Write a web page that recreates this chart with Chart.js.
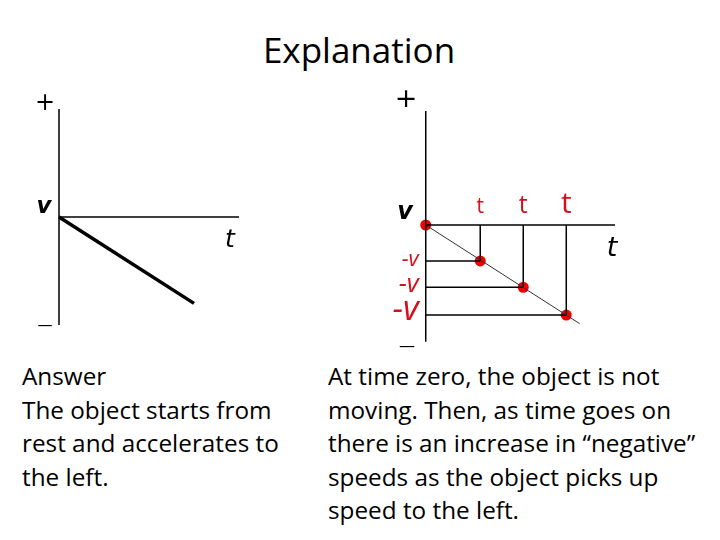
<!DOCTYPE html>
<html>
<head>
<meta charset="utf-8">
<script src="https://cdn.jsdelivr.net/npm/chart.js@4/dist/chart.umd.min.js"></script>
<style>
  html, body { margin: 0; padding: 0; background: #fff; }
  #page { position: relative; width: 720px; height: 540px; overflow: hidden; font-family: 'Open Sans', sans-serif; color: #000; }
  canvas { position: absolute; }
  .lbl { position: absolute; transform: translate(-50%, -50%); white-space: nowrap; line-height: 1; }
  .ax { font-family: 'DejaVu Sans', sans-serif; }
  .title { position: absolute; left: 0; width: 718px; top: 27px; text-align: center; font-size: 35px; line-height: 46px; }
  .body { position: absolute; font-size: 24.3px; line-height: 33.5px; }
</style>
</head>
<body>
<div id="page">
  <div class="title">Explanation</div>

  <canvas id="leftChart" width="252" height="252" style="left:23px; top:91px;"></canvas>
  <canvas id="rightChart" width="250" height="260" style="left:382px; top:95px;"></canvas>

  <!-- axis labels, left diagram -->
  <span class="lbl ax" style="left:45px; top:102px; font-size:24px;">+</span>
  <span class="lbl ax" style="left:45px; top:325px; font-size:15px;">&#8212;</span>
  <span class="lbl ax" style="left:44px; top:205px; font-size:23px; font-weight:bold; font-style:italic;">v</span>
  <span class="lbl ax" style="left:230px; top:238px; font-size:25px; font-style:italic;">t</span>

  <!-- axis labels, right diagram -->
  <span class="lbl ax" style="left:406px; top:97px; font-size:27px;">+</span>
  <span class="lbl ax" style="left:407px; top:346px; font-size:16px;">&#8212;</span>
  <span class="lbl ax" style="left:405px; top:211px; font-size:24px; font-weight:bold; font-style:italic;">v</span>
  <span class="lbl ax" style="left:612px; top:246px; font-size:27px; font-style:italic;">t</span>

  <div class="body" style="left:22px; top:359px;">Answer<br>The object starts from<br>rest and accelerates to<br>the left.</div>
  <div class="body" style="left:328px; top:359px;">At time zero, the object is not<br>moving. Then, as time goes on<br>there is an increase in &#8220;negative&#8221;<br>speeds as the object picks up<br>speed to the left.</div>
</div>

<script>
// left diagram: v falls steadily from 0
const leftTimes = [0, 7.5];
const leftSpeeds = [0, -4.8];
const leftTimeAxis = [0, 10];
const leftSpeedAxis = [6, -6];

// right diagram: sampled instants on the line
const rightTimes = [0, 5.7, 10.2, 14.7];
const rightSpeeds = [0, -3.75, -6.5, -9.4];
const rightLineEnd = [16.1, -10.3];
const rightTimeAxis = [0, 19.8];
const rightSpeedAxis = [11.9, -12.2];
const tLabels = ['t', 't', 't'];
const vLabels = ['-v', '-v', '-v'];
const tSizes = [21, 25, 30];
const vSizes = [22, 26, 34];

const RED = '#f00000';
const RED_TEXT = '#d4101c';

function seg(x1, y1, x2, y2) {
    return [{ x: x1, y: y1 }, { x: x2, y: y2 }];
}

function lineSet(data, width, color) {
    return {
        data: data,
        showLine: true,
        borderColor: color || '#000',
        borderWidth: width,
        pointRadius: 0,
        clip: false
    };
}

function baseOptions(xMin, xMax, yMin, yMax) {
    return {
        responsive: false,
        animation: false,
        events: [],
        layout: { padding: 0 },
        scales: {
            x: { type: 'linear', min: xMin, max: xMax, display: false },
            y: { type: 'linear', min: yMin, max: yMax, display: false }
        },
        plugins: { legend: { display: false }, tooltip: { enabled: false } }
    };
}

// left chart
new Chart(document.getElementById('leftChart'), {
    type: 'scatter',
    data: {
        datasets: [
            lineSet(seg(0, leftSpeedAxis[0], 0, leftSpeedAxis[1]), 1.5),
            lineSet(seg(leftTimeAxis[0], 0, leftTimeAxis[1], 0), 1.5),
            lineSet(leftTimes.map((t, i) => ({ x: t, y: leftSpeeds[i] })), 3.5)
        ]
    },
    options: baseOptions(-2, 12, -7, 7)
});

// red labels along the axes of the right chart
const sampleLabels = {
    id: 'sampleLabels',
    afterDatasetsDraw(chart) {
        const { ctx, scales: { x, y } } = chart;
        ctx.save();
        ctx.fillStyle = RED_TEXT;
        ctx.textBaseline = 'alphabetic';
        for (let i = 1; i < rightTimes.length; i++) {
            ctx.font = tSizes[i - 1] + 'px "Open Sans", sans-serif';
            ctx.textAlign = 'center';
            ctx.fillText(tLabels[i - 1], x.getPixelForValue(rightTimes[i]), y.getPixelForValue(0) - 12);
            ctx.font = 'italic ' + vSizes[i - 1] + 'px "Open Sans", sans-serif';
            ctx.textAlign = 'right';
            ctx.fillText(vLabels[i - 1], x.getPixelForValue(0) - 7, y.getPixelForValue(rightSpeeds[i]) + 5);
        }
        ctx.restore();
    }
};

const rightSets = [
    lineSet(seg(0, rightSpeedAxis[0], 0, rightSpeedAxis[1]), 1.5),
    lineSet(seg(rightTimeAxis[0], 0, rightTimeAxis[1], 0), 1.5),
    lineSet(seg(0, 0, rightLineEnd[0], rightLineEnd[1]), 1, '#333')
];
for (let i = 1; i < rightTimes.length; i++) {
    rightSets.push(lineSet(seg(rightTimes[i], 0, rightTimes[i], rightSpeeds[i]), 1.5));
    rightSets.push(lineSet(seg(0, rightSpeeds[i], rightTimes[i], rightSpeeds[i]), 1.5));
}
rightSets.push({
    data: rightTimes.map((t, i) => ({ x: t, y: rightSpeeds[i] })),
    showLine: false,
    pointRadius: 5.5,
    pointBackgroundColor: RED,
    pointBorderColor: RED,
    pointBorderWidth: 0,
    clip: false
});

new Chart(document.getElementById('rightChart'), {
    type: 'scatter',
    data: { datasets: rightSets },
    options: baseOptions(-4, 21, -13, 13),
    plugins: [sampleLabels]
});
</script>
</body>
</html>
